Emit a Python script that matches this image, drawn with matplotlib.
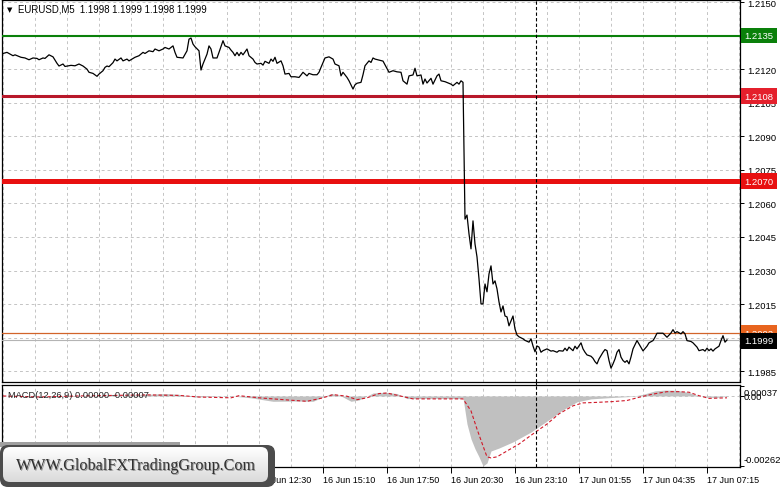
import numpy as np
import matplotlib
matplotlib.use("Agg")
import matplotlib.pyplot as plt
import matplotlib.transforms as mtransforms
from matplotlib.patches import FancyBboxPatch, Rectangle
from matplotlib.colors import LinearSegmentedColormap

plt.rcParams['font.family'] = ['Liberation Sans', 'DejaVu Sans']

# ---------------------------------------------------------------------
# EURUSD M5 closes (x = bar number from the left edge)
price_bars = [
    0, 2, 5, 6, 9, 11, 13, 15, 17, 18, 20, 21, 23, 25, 27, 28, 30, 31, 34, 36,
    38, 40, 42, 43, 45, 47, 48, 50, 51, 52, 53, 55, 56, 57, 59, 60, 62, 63, 65, 66,
    68, 70, 71, 73, 75, 76, 78, 80, 81, 83, 85, 86, 87, 90, 92, 93, 94, 95, 96, 98,
    99, 100, 102, 103, 104, 105, 107, 108, 110, 111, 113, 114, 115, 116, 117, 118, 119, 120, 122, 123,
    125, 126, 127, 129, 130, 131, 133, 134, 135, 136, 137, 139, 140, 141, 143, 144, 146, 148, 149, 150,
    152, 153, 155, 157, 158, 159, 161, 163, 165, 166, 168, 169, 170, 172, 173, 175, 176, 177, 179, 180,
    181, 183, 184, 185, 186, 190, 193, 195, 197, 199, 200, 202, 203, 205, 206, 207, 209, 210, 211, 212,
    214, 215, 217, 218, 219, 221, 224, 225, 227, 228, 229, 230, 231, 232, 233, 234, 235, 236, 237, 238,
    239, 240, 241, 242, 243, 244, 245, 246, 247, 248, 249, 250, 251, 252, 253, 254, 255, 256, 257, 258,
    260, 261, 263, 264, 265, 266, 267, 268, 269, 270, 272, 274, 275, 277, 278, 280, 281, 282, 283, 285,
    286, 287, 289, 290, 291, 292, 294, 295, 296, 297, 298, 300, 301, 302, 303, 304, 305, 306, 307, 308,
    309, 310, 311, 312, 313, 314, 315, 317, 318, 320, 322, 323, 325, 326, 327, 329, 330, 332, 334, 335,
    336, 337, 339, 340, 341, 342, 344, 345, 347, 348, 350, 351, 352, 353, 354, 355, 356, 358, 359, 360,
    361, 362,
]
price_close = [
    1.21270, 1.21275, 1.21260, 1.21264, 1.21253, 1.21250, 1.21242, 1.21250, 1.21248, 1.21242,
    1.21250, 1.21248, 1.21264, 1.21255, 1.21226, 1.21214, 1.21223, 1.21212, 1.21217, 1.21215,
    1.21223, 1.21214, 1.21200, 1.21186, 1.21181, 1.21168, 1.21178, 1.21193, 1.21208, 1.21214,
    1.21211, 1.21229, 1.21245, 1.21237, 1.21250, 1.21237, 1.21245, 1.21237, 1.21248, 1.21253,
    1.21260, 1.21275, 1.21270, 1.21282, 1.21278, 1.21290, 1.21282, 1.21290, 1.21297, 1.21290,
    1.21304, 1.21275, 1.21253, 1.21250, 1.21282, 1.21334, 1.21339, 1.21312, 1.21300, 1.21282,
    1.21196, 1.21223, 1.21267, 1.21304, 1.21290, 1.21250, 1.21250, 1.21275, 1.21327, 1.21304,
    1.21297, 1.21285, 1.21275, 1.21260, 1.21275, 1.21260, 1.21275, 1.21264, 1.21290, 1.21260,
    1.21245, 1.21230, 1.21223, 1.21226, 1.21218, 1.21235, 1.21226, 1.21245, 1.21235, 1.21253,
    1.21226, 1.21237, 1.21215, 1.21178, 1.21181, 1.21166, 1.21166, 1.21163, 1.21174, 1.21186,
    1.21170, 1.21181, 1.21175, 1.21175, 1.21186, 1.21208, 1.21250, 1.21255, 1.21245, 1.21223,
    1.21215, 1.21170, 1.21186, 1.21163, 1.21148, 1.21111, 1.21130, 1.21137, 1.21141, 1.21175,
    1.21215, 1.21237, 1.21230, 1.21250, 1.21245, 1.21236, 1.21186, 1.21193, 1.21188, 1.21186,
    1.21148, 1.21133, 1.21170, 1.21174, 1.21204, 1.21170, 1.21174, 1.21133, 1.21156, 1.21138,
    1.21159, 1.21133, 1.21170, 1.21178, 1.21148, 1.21144, 1.21133, 1.21126, 1.21141, 1.21133,
    1.21148, 1.21141, 1.20530, 1.20548, 1.20464, 1.20397, 1.20522, 1.20419, 1.20361, 1.20263,
    1.20151, 1.20151, 1.20240, 1.20205, 1.20285, 1.20321, 1.20240, 1.20254, 1.20218, 1.20160,
    1.20115, 1.20142, 1.20097, 1.20093, 1.20053, 1.20075, 1.20097, 1.20039, 1.20012, 1.20004,
    1.19995, 1.19988, 1.19980, 1.19995, 1.19963, 1.19937, 1.19963, 1.19958, 1.19935, 1.19942,
    1.19950, 1.19940, 1.19942, 1.19935, 1.19942, 1.19940, 1.19953, 1.19942, 1.19958, 1.19942,
    1.19962, 1.19950, 1.19977, 1.19950, 1.19935, 1.19923, 1.19917, 1.19908, 1.19893, 1.19883,
    1.19905, 1.19935, 1.19947, 1.19942, 1.19898, 1.19864, 1.19883, 1.19905, 1.19935, 1.19947,
    1.19913, 1.19898, 1.19890, 1.19898, 1.19883, 1.19914, 1.19950, 1.19987, 1.19972, 1.19941,
    1.19962, 1.19977, 1.19987, 1.20002, 1.20020, 1.20020, 1.20020, 1.20002, 1.20021, 1.20036,
    1.20021, 1.20027, 1.20017, 1.20027, 1.20017, 1.19987, 1.19983, 1.19977, 1.19958, 1.19942,
    1.19947, 1.19940, 1.19953, 1.19942, 1.19950, 1.19940, 1.19950, 1.19962, 1.19987, 1.20009,
    1.19980, 1.19990,
]

# MACD(12,26,9) main (histogram) and signal
macd_bars = [0, 18, 38, 54, 72, 81, 88, 96, 104, 114, 124, 135, 146, 155, 160, 164, 168, 174, 178, 185,
             191, 197, 202, 214, 224, 228, 230, 232, 234, 236, 238, 240, 242, 244, 248, 255, 264, 272, 280, 287,
             294, 304, 314, 320, 326, 331, 337, 343, 347, 352, 356, 361, 362]
macd_main = [0.00000, 0.00002, 0.00000, -0.00002, 0.00006, 0.00009, 0.00006, -0.00004, -0.00002, 0.00000,
             -0.00007, -0.00020, -0.00019, -0.00020, -0.00004, 0.00009, 0.00004, -0.00020, -0.00015, 0.00011,
             0.00014, 0.00009, -0.00010, -0.00009, -0.00009, -0.00010, -0.00007, -0.00105, -0.00161, -0.00198,
             -0.00228, -0.00262, -0.00251, -0.00206, -0.00195, -0.00172, -0.00135, -0.00094, -0.00052, -0.00022,
             -0.00011, -0.00006, -0.00002, 0.00006, 0.00019, 0.00022, 0.00021, 0.00013, 0.00002, -0.00004,
             -0.00006, -0.00002, 0.00000]
signal_bars = [0, 18, 38, 72, 88, 98, 114, 118, 128, 144, 152, 160, 165, 172, 177, 182, 188, 192, 198, 205,
               212, 222, 230, 234, 237, 240, 242, 244, 247, 252, 258, 265, 272, 278, 285, 290, 297, 305, 312, 318,
               325, 332, 338, 343, 348, 353, 362]
signal_vals = [0.00000, -0.00004, 0.00000, 0.00004, 0.00002, -0.00004, -0.00007, 0.00001, -0.00007, -0.00016,
               -0.00020, -0.00007, 0.00005, -0.00001, -0.00014, -0.00007, 0.00009, 0.00011, 0.00001, -0.00011,
               -0.00011, -0.00011, -0.00011, -0.00056, -0.00124, -0.00187, -0.00228, -0.00232, -0.00228, -0.00206,
               -0.00180, -0.00142, -0.00105, -0.00067, -0.00037, -0.00026, -0.00024, -0.00021, -0.00017, -0.00005,
               0.00007, 0.00016, 0.00016, 0.00014, 0.00001, -0.00009, -0.00007]

# horizontal levels
level_prices = [1.2135, 1.2108, 1.2070, 1.2002]
level_colors = ['#0a800a', '#b8182a', '#e81010', '#d2642a']
level_box_colors = ['#0a800a', '#e4202c', '#e81010', '#e8641e']
level_widths = [1.5, 2.2, 3.6, 0.9]
bid_price = 1.1999

price_ticks = [1.1985, 1.2000, 1.2015, 1.2030, 1.2045, 1.2060, 1.2075,
               1.2090, 1.2105, 1.2120, 1.2135, 1.2150]
hidden_ticks = [1.2000, 1.2135]   # sit under the level boxes in MT4
time_ticks = [0, 32, 64, 96, 128, 160, 192, 224, 256, 288, 320, 352]
time_labels = ['16 Jun 01:50', '16 Jun 04:30', '16 Jun 07:10', '16 Jun 09:50',
               '16 Jun 12:30', '16 Jun 15:10', '16 Jun 17:50', '16 Jun 20:30',
               '16 Jun 23:10', '17 Jun 01:55', '17 Jun 04:35', '17 Jun 07:15']
cursor_bar = 266.5

W, H = 781, 489
FS = 6.8


def frame(x0, y0, x1, y1):
    """pixel box (top-left origin) -> figure fraction rect"""
    return [x0 / W, 1 - y1 / H, (x1 - x0) / W, (y1 - y0) / H]


fig = plt.figure(figsize=(W / 100, H / 100), dpi=100)
fig.patch.set_facecolor('white')

grid_kw = dict(color='#c4c4c4', ls=(0, (3, 3)), lw=0.7)

#=====================================================================
# price pane
ax = fig.add_axes(frame(2, 1, 740, 383))
ax.set_axisbelow(True)
ax.plot(price_bars, price_close, color='black', lw=0.9, zorder=4)
ax.set_xlim(-0.5, 368.5)
ax.set_ylim(1.19802, 1.21509)
ax.set_xticks(range(0, 369, 16))
ax.tick_params(axis='x', length=0, labelbottom=False)
ax.yaxis.tick_right()
ax.set_yticks(price_ticks)
ax.set_yticklabels(['' if p in hidden_ticks else '{:.4f}'.format(p) for p in price_ticks])
ax.tick_params(axis='y', length=3, width=0.7, pad=2, labelsize=FS)
ax.grid(True, **grid_kw)
for s in ax.spines.values():
    s.set_linewidth(0.9)

trans = mtransforms.blended_transform_factory(ax.transAxes, ax.transData)
box_x = 1.0057
for p, c, bc, lw in zip(level_prices, level_colors, level_box_colors, level_widths):
    ax.axhline(p, color=c, lw=lw, zorder=3)
    ax.text(box_x, p, '{:.4f}'.format(p), transform=trans, ha='left', va='center',
            fontsize=FS, color='white', clip_on=False, zorder=6,
            bbox=dict(boxstyle='square,pad=0.35', fc=bc, ec='none'))
ax.axhline(bid_price, color='#b4b4b4', lw=0.8, zorder=3)
ax.text(box_x, bid_price - 0.00004, '{:.4f}'.format(bid_price), transform=trans, ha='left',
        va='center', fontsize=FS, color='white', clip_on=False, zorder=7,
        bbox=dict(boxstyle='square,pad=0.35', fc='black', ec='none'))
ax.axvline(cursor_bar, color='black', lw=0.8, ls=(0, (3, 2)), zorder=5)

fig.text(7 / W, 1 - 10 / H, '▼', fontsize=5, family='DejaVu Sans', va='center', ha='left')
fig.text(18 / W, 1 - 10 / H, 'EURUSD,M5  1.1998 1.1999 1.1998 1.1999', fontsize=6.9,
         va='center', ha='left')

#=====================================================================
# MACD pane
ax2 = fig.add_axes(frame(2, 386, 740, 468))
ax2.set_axisbelow(True)
ax2.fill_between(macd_bars, macd_main, 0, color='#c0c0c0', lw=0, zorder=2)
ax2.plot(signal_bars, signal_vals, color='#d01828', lw=0.8, ls=(0, (3, 2)), zorder=3)
ax2.axhline(0, **grid_kw)
ax2.set_xlim(-0.5, 368.5)
ax2.set_ylim(-0.00266, 0.00041)
ax2.set_xticks(time_ticks)
ax2.set_xticklabels(time_labels, ha='left')
ax2.set_xticks(range(16, 369, 32), minor=True)
ax2.tick_params(axis='x', which='major', length=4, width=0.7, pad=1.5, labelsize=6.5)
ax2.tick_params(axis='x', which='minor', length=0)
ax2.xaxis.grid(True, which='both', **grid_kw)
ax2.yaxis.tick_right()
ax2.set_yticks([0.00037, 0.0, -0.00262])
ax2.set_yticklabels([])
ax2.tick_params(axis='y', length=3, width=0.7)
for s in ax2.spines.values():
    s.set_linewidth(0.9)
ax2.axvline(cursor_bar, color='black', lw=0.8, ls=(0, (3, 2)), zorder=5)

# MT4 draws the max and zero labels on top of each other here
fig.text(744 / W, 1 - 393 / H, '0.00037', fontsize=FS, va='center', ha='left')
fig.text(744 / W, 1 - 398 / H, '0.00', fontsize=FS, va='center', ha='left')
fig.text(744 / W, 1 - 461 / H, '-0.00262', fontsize=FS, va='center', ha='left')
fig.text(8 / W, 1 - 396 / H, 'MACD(12,26,9) 0.00000 -0.00007', fontsize=6.7,
         va='center', ha='left', color='#202020')

# the cursor line also crosses the gap between the panes
fig.add_artist(plt.Line2D([(3 + 2 * cursor_bar) / W] * 2, [1 - 383 / H, 1 - 386 / H],
                          color='black', lw=0.8))

#=====================================================================
# watermark
ov = fig.add_axes([0, 0, 1, 1], zorder=10)
ov.patch.set_alpha(0)
ov.add_patch(Rectangle((0, 443), 180, 5, fc='#a0a0a0', ec='none'))
ov.add_patch(FancyBboxPatch((0, 446), 275, 42, boxstyle='round,pad=0,rounding_size=8',
                            fc='#4c4c4c', ec='none'))
inner = FancyBboxPatch((3, 448), 265, 35, boxstyle='round,pad=0,rounding_size=7',
                       fc='none', ec='none')
ov.add_patch(inner)
cmap = LinearSegmentedColormap.from_list('wm', ['#ffffff', '#dadada'])
im = ov.imshow(np.linspace(0, 1, 64).reshape(-1, 1), extent=(3, 268, 483, 448),
               cmap=cmap, aspect='auto', zorder=2)
im.set_clip_path(inner)
ov.text(137, 467, 'WWW.GlobalFXTradingGroup.Com', family='Liberation Serif', fontsize=11.6,
        color='#9a9a9a', ha='center', va='center', zorder=3)
ov.text(136, 466, 'WWW.GlobalFXTradingGroup.Com', family='Liberation Serif', fontsize=11.6,
        color='#303030', ha='center', va='center', zorder=4)
ov.set_xlim(0, W)
ov.set_ylim(H, 0)
ov.axis('off')

fig.savefig('out.png', dpi=100)
